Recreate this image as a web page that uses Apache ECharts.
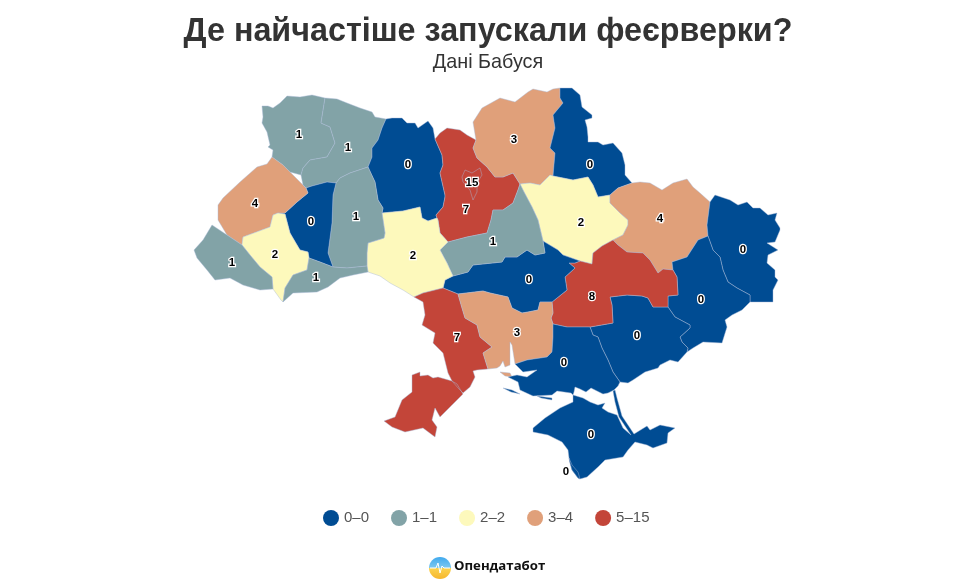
<!DOCTYPE html>
<html>
<head>
    <meta charset="utf-8">
    <title>Де найчастіше запускали феєрверки?</title>
    <script src="https://cdn.jsdelivr.net/npm/echarts@6/dist/echarts.min.js"></script>
    <style>
        html, body { margin: 0; padding: 0; background: #fff; }
        #chart { width: 967px; height: 587px; }
    </style>
</head>
<body>
<div id="chart"></div>
<script>
    // значення по областях
    var regionNames = ['Волинська', 'Рівненська', 'Житомирська', 'Київська', 'Київ', 'Чернігівська', 'Сумська',
        'Полтавська', 'Харківська', 'Луганська', 'Донецька', 'Запорізька', 'Дніпропетровська', 'Кіровоградська',
        'Черкаська', 'Вінницька', 'Хмельницька', 'Тернопільська', 'Львівська', 'Івано-Франківська', 'Закарпатська',
        'Чернівецька', 'Одеська', 'Миколаївська', 'Херсонська', 'Крим', 'Севастополь'];
    var regionValues = [1, 1, 0, 7, 15, 3, 0,
        2, 4, 0, 0, 0, 8, 0,
        1, 2, 1, 0, 4, 2, 1,
        1, 7, 3, 0, 0, 0];

    // легенда
    var pieceLabels = ['0–0', '1–1', '2–2', '3–4', '5–15'];
    var pieceMin = [0, 1, 2, 3, 5];
    var pieceMax = [0, 1, 2, 4, 15];
    var pieceColors = ['#004c93', '#82a3a7', '#fdf9bc', '#e0a07a', '#c34539'];

    // контури: спільні ділянки кордонів у пікселях картинки
    var edges = {
        volN: [[272,157],[273,150],[268,147],[270,145],[267,132],[262,123],[263,117],[262,106],[268,106],[273,108],[280,103],[287,96],[300,97],[312,95],[325,98]],
        volRiv: [[325,98],[321,123],[330,127],[335,143],[327,157],[310,160],[303,168],[301,175]],
        volLviv: [[272,157],[283,165],[290,172],[301,175]],
        rivLviv: [[301,175],[303,185],[306,188]],
        rivTer: [[306,188],[312,186],[327,182],[336,183]],
        rivKhm: [[336,183],[340,178],[350,173],[368,167]],
        rivN: [[325,98],[337,99],[347,103],[360,108],[372,112],[375,117],[386,119]],
        rivZhy: [[386,119],[382,128],[378,140],[372,148],[372,157],[368,167]],
        zhyN: [[386,119],[392,118],[402,118],[407,123],[415,123],[418,128],[428,121],[433,128],[435,139]],
        zhyKyiv: [[435,139],[442,155],[443,165],[440,173],[445,195],[445,197],[443,207],[436,215],[437,218]],
        zhyVin: [[437,218],[428,221],[422,218],[420,207],[403,211],[382,213]],
        zhyKhm: [[368,167],[375,182],[378,200],[383,208],[382,213]],
        khmTer: [[336,183],[333,195],[332,223],[328,253],[333,267]],
        khmChe: [[333,267],[347,268],[367,266]],
        khmVin: [[382,213],[385,233],[384,238],[368,243],[367,253],[367,266]],
        lvivOut: [[272,157],[267,164],[257,167],[240,182],[223,198],[218,205],[218,220],[227,235],[242,245]],
        lvivIF: [[242,245],[243,237],[270,227],[273,215],[278,213]],
        lvivTer: [[278,213],[285,213],[297,202],[308,193],[306,188]],
        terIF: [[278,213],[285,214],[290,233],[297,245],[300,250],[308,252],[309,258]],
        terChe: [[309,258],[320,262],[333,267]],
        ifChe: [[309,258],[307,270],[293,275],[285,288],[283,302]],
        ifZak: [[242,245],[250,255],[260,267],[272,277],[273,289]],
        ifOut: [[273,289],[281,300],[283,302]],
        zakOut: [[242,245],[227,235],[212,225],[203,240],[194,250],[197,258],[207,270],[215,280],[230,278],[243,285],[260,290],[273,289]],
        cheOut: [[283,302],[293,293],[317,292],[328,287],[340,278],[353,275],[368,272]],
        cheVin: [[367,266],[368,272]],
        vinOut: [[368,272],[380,276],[390,283],[403,290],[414,297]],
        vinOde: [[414,297],[423,293],[443,288]],
        vinKir: [[443,288],[445,280],[453,276]],
        vinChe: [[453,276],[447,263],[440,250],[448,242]],
        vinKyiv: [[448,242],[440,233],[438,220],[437,218]],
        kyivN: [[435,139],[440,133],[447,128],[460,130],[467,135],[476,140]],
        kyivChn: [[476,140],[473,148],[477,158],[487,167],[495,177],[503,177],[513,173],[520,184]],
        kyivChk: [[520,184],[518,190],[513,203],[503,210],[493,210],[491,220],[487,233],[467,237],[448,242]],
        chkPol: [[520,184],[524,192],[532,207],[538,220],[543,241]],
        chkKir: [[543,241],[545,253],[535,255],[527,250],[517,257],[505,257],[502,262],[473,265],[468,272],[453,276]],
        chnOut: [[476,140],[473,122],[482,108],[500,98],[515,102],[528,92],[533,89],[547,92],[553,89],[560,88]],
        chnSum: [[560,88],[560,98],[563,103],[553,115],[555,128],[550,148],[555,153],[553,176]],
        chnPol: [[520,184],[530,183],[540,185],[550,175],[553,176]],
        sumOut: [[560,88],[572,88],[580,95],[582,107],[592,115],[592,118],[585,120],[587,127],[588,137],[588,142],[598,142],[603,145],[613,143],[622,153],[625,165],[625,175],[632,183]],
        sumPol: [[553,176],[573,180],[588,177],[593,185],[598,197],[610,195]],
        sumKha: [[632,183],[618,188],[610,195]],
        polKha: [[610,195],[610,203],[620,213],[628,220],[628,225],[623,235],[613,240]],
        polDni: [[613,240],[602,246],[593,253],[592,264],[580,261]],
        polKir: [[543,241],[558,250],[563,255],[580,261]],
        khaOut: [[632,183],[640,182],[650,183],[662,190],[673,183],[687,179],[693,187],[700,193],[710,202]],
        khaLug: [[710,202],[707,225],[708,236]],
        khaDon: [[708,236],[698,240],[687,257],[672,262],[673,270]],
        khaDni: [[613,240],[618,245],[627,252],[643,253],[650,260],[658,273],[663,269],[673,270]],
        lugOut: [[710,202],[715,195],[730,200],[738,205],[747,202],[753,208],[760,208],[768,215],[777,213],[775,220],[780,228],[780,230],[775,242],[767,243],[778,250],[768,255],[767,263],[775,270],[775,277],[778,280],[773,290],[773,302],[750,302]],
        lugDon: [[708,236],[713,250],[720,257],[723,270],[728,282],[737,288],[750,295],[750,302]],
        donOut: [[750,302],[742,310],[732,315],[725,320],[727,327],[722,343],[703,342],[693,348],[687,352]],
        donDni: [[673,270],[677,277],[678,295],[668,296],[668,307]],
        donZap: [[668,307],[675,317],[690,325],[690,328],[680,337],[682,342],[688,348],[687,352]],
        dniZap: [[668,307],[653,307],[648,298],[642,296],[627,295],[610,297],[612,305],[613,323],[590,327]],
        dniKhe: [[590,327],[567,327],[553,324]],
        dniMyk: [[553,324],[551,318],[553,313],[552,302]],
        dniKir: [[552,302],[567,290],[565,277],[575,268],[569,263],[575,263],[580,261]],
        zapOut: [[687,352],[678,362],[670,360],[660,365],[658,368],[645,372],[633,380],[628,383],[620,382]],
        zapKhe: [[590,327],[593,335],[598,337],[602,348],[608,360],[613,372],[620,382]],
        kheOut: [[620,382],[618,386],[614,390],[608,393],[603,394],[597,391],[591,388],[586,392],[580,389],[575,387],[574,392],[573,395],[571,393],[557,391],[552,395],[533,396],[520,390],[518,382],[508,377],[517,375],[527,377],[537,370],[523,372],[515,364]],
        kheMyk: [[553,324],[553,337],[552,352],[547,357],[527,360],[515,364]],
        mykCoast: [[515,364],[512,345],[510,342],[510,355],[510,365],[505,367],[503,361],[500,366],[497,368],[488,369]],
        mykOde: [[458,294],[462,308],[465,318],[477,325],[480,337],[492,347],[483,353],[488,369]],
        mykKir: [[458,294],[483,291],[490,293],[508,297],[512,308],[522,313],[528,312],[538,310],[540,302],[552,302]],
        odeKir: [[443,288],[458,294]],
        odeOut: [[414,297],[423,302],[425,315],[422,325],[435,333],[433,343],[443,353],[448,373],[452,381],[459,389],[463,393],[470,387],[475,377],[473,371],[477,370],[488,369]]
    };

    // окремі шматки, що не мають спільних кордонів
    var odesaSouth = [[463,394],[457,384],[452,381],[438,377],[433,378],[428,375],[420,376],[420,372],[412,375],[412,392],[402,400],[395,417],[384,421],[392,427],[405,432],[423,428],[435,437],[437,427],[432,420],[435,408],[440,417],[452,405]];
    var kinburn = [[500,372],[510,373],[512,377],[505,376]];
    var tendra = [[503,388],[512,390],[520,394],[511,392]];
    var dzharylhach = [[537,396],[552,398],[552,400],[541,398]];
    var crimea = [[573,395],[583,398],[590,402],[598,405],[605,403],[602,408],[608,412],[617,415],[623,428],[631,435],[619,417],[615,402],[613,391],[615,390],[617,398],[622,416],[634,434],[647,426],[650,430],[660,425],[675,428],[668,433],[667,443],[653,448],[647,445],[635,442],[628,450],[623,457],[605,460],[598,467],[587,477],[580,479],[578,478],[572,470],[570,463],[569,458],[568,450],[562,442],[548,435],[533,432],[533,428],[545,418],[560,408],[573,402]];
    var sevastopol = [[569,458],[572,465],[578,472],[580,479],[578,478],[572,470],[570,463]];
    var kyivCity = [[462,177],[465,170],[472,173],[480,168],[482,175],[477,183],[477,192],[473,200],[470,190],[463,182]];

    // де стоять підписи
    var labelAt = {
        'Волинська': [299,134], 'Рівненська': [348,147], 'Житомирська': [408,164], 'Київська': [466,209], 'Київ': [472,182],
        'Чернігівська': [514,139], 'Сумська': [590,164], 'Полтавська': [581,222], 'Харківська': [660,218], 'Луганська': [743,249],
        'Донецька': [701,299], 'Запорізька': [637,335], 'Дніпропетровська': [592,296], 'Кіровоградська': [529,279],
        'Черкаська': [493,241], 'Вінницька': [413,255], 'Хмельницька': [356,216], 'Тернопільська': [311,221], 'Львівська': [255,203],
        'Івано-Франківська': [275,254], 'Закарпатська': [232,262], 'Чернівецька': [316,277], 'Одеська': [457,337],
        'Миколаївська': [517,332], 'Херсонська': [564,362], 'Крим': [591,434], 'Севастополь': [566,471]
    };

    // збирає кільце зі спільних кордонів, '-' значить у зворотному напрямку
    function ring(parts) {
        var pts = [];
        parts.forEach(function (p) {
            var rev = p.charAt(0) === '-';
            var line = edges[rev ? p.slice(1) : p].slice();
            if (rev) line.reverse();
            pts = pts.concat(pts.length ? line.slice(1) : line);
        });
        return pts;
    }

    var shapes = {
        'Волинська': [ring(['volN', 'volRiv', '-volLviv'])],
        'Рівненська': [ring(['-volRiv', 'rivN', 'rivZhy', '-rivKhm', '-rivTer', '-rivLviv'])],
        'Житомирська': [ring(['zhyN', 'zhyKyiv', 'zhyVin', '-zhyKhm', '-rivZhy'])],
        'Хмельницька': [ring(['rivKhm', 'zhyKhm', 'khmVin', '-khmChe', '-khmTer'])],
        'Тернопільська': [ring(['rivTer', 'khmTer', '-terChe', '-terIF', 'lvivTer'])],
        'Львівська': [ring(['lvivOut', 'lvivIF', 'lvivTer', 'rivLviv', '-volLviv'])],
        'Івано-Франківська': [ring(['lvivIF', 'terIF', 'ifChe', '-ifOut', '-ifZak'])],
        'Закарпатська': [ring(['zakOut', '-ifZak'])],
        'Чернівецька': [ring(['terChe', 'khmChe', 'cheVin', '-cheOut', '-ifChe'])],
        'Вінницька': [ring(['-zhyVin', '-vinKyiv', '-vinChe', '-vinKir', '-vinOde', '-vinOut', '-cheVin', '-khmVin'])],
        'Київська': [ring(['kyivN', 'kyivChn', 'kyivChk', 'vinKyiv', '-zhyKyiv'])],
        'Черкаська': [ring(['chkPol', 'chkKir', 'vinChe', '-kyivChk'])],
        'Чернігівська': [ring(['chnOut', 'chnSum', '-chnPol', '-kyivChn'])],
        'Сумська': [ring(['sumOut', 'sumKha', '-sumPol', '-chnSum'])],
        'Полтавська': [ring(['chnPol', 'sumPol', 'polKha', 'polDni', '-polKir', '-chkPol'])],
        'Харківська': [ring(['khaOut', 'khaLug', 'khaDon', '-khaDni', '-polKha', '-sumKha'])],
        'Луганська': [ring(['lugOut', '-lugDon', '-khaLug'])],
        'Донецька': [ring(['lugDon', 'donOut', '-donZap', '-donDni', '-khaDon'])],
        'Дніпропетровська': [ring(['khaDni', 'donDni', 'dniZap', 'dniKhe', 'dniMyk', 'dniKir', '-polDni'])],
        'Запорізька': [ring(['-dniZap', 'donZap', 'zapOut', '-zapKhe'])],
        'Херсонська': [ring(['zapKhe', 'kheOut', '-kheMyk', '-dniKhe']), tendra, dzharylhach],
        'Миколаївська': [ring(['mykKir', '-dniMyk', 'kheMyk', 'mykCoast', '-mykOde']), kinburn],
        'Кіровоградська': [ring(['vinKir', '-chkKir', 'polKir', '-dniKir', '-mykKir', '-odeKir'])],
        'Одеська': [ring(['odeOut', '-mykOde', '-odeKir', '-vinOde']), odesaSouth],
        'Крим': [crimea],
        'Севастополь': [sevastopol],
        'Київ': [kyivCity]
    };

    // y міняємо знак, бо geoJSON рахує широту вгору
    function flip(p) { return [p[0], -p[1]]; }
    function closed(r) { return r.concat([r[0]]).map(flip); }

    var geoJson = {
        type: 'FeatureCollection',
        features: regionNames.map(function (name) {
            return {
                type: 'Feature',
                properties: { name: name, cp: flip(labelAt[name]) },
                geometry: {
                    type: 'MultiPolygon',
                    coordinates: shapes[name].map(function (r) { return [closed(r)]; })
                }
            };
        })
    };
    echarts.registerMap('ukraine', geoJson);

    var myChart = echarts.init(document.getElementById('chart'));
    myChart.setOption({
        animation: false,
        title: {
            text: 'Де найчастіше запускали феєрверки?',
            subtext: 'Дані Бабуся',
            left: 483,
            textAlign: 'center',
            top: 11,
            itemGap: 5,
            textStyle: { fontFamily: 'Liberation Sans', fontWeight: 'bold', fontSize: 32.3, color: '#333333' },
            subtextStyle: { fontFamily: 'Liberation Sans', fontSize: 19.8, color: '#333333' }
        },
        visualMap: {
            type: 'piecewise',
            orient: 'horizontal',
            left: 308,
            top: 495,
            itemWidth: 16,
            itemHeight: 16,
            itemGap: 22,
            textGap: 5,
            itemSymbol: 'circle',
            selectedMode: false,
            seriesIndex: 0,
            textStyle: { fontFamily: 'Liberation Sans', fontSize: 15, color: '#555555' },
            pieces: pieceLabels.map(function (label, i) {
                return { min: pieceMin[i], max: pieceMax[i], label: label, color: pieceColors[i] };
            })
        },
        series: [{
            type: 'map',
            map: 'ukraine',
            aspectScale: 1,
            roam: false,
            silent: true,
            left: 194,
            top: 88,
            width: 586,
            height: 391,
            selectedMode: false,
            itemStyle: { borderColor: 'rgba(170,185,215,0.55)', borderWidth: 0.8 },
            label: {
                show: true,
                formatter: '{c}',
                offset: [0, 1],
                color: '#000',
                fontFamily: 'Liberation Sans',
                fontWeight: 'bold',
                fontSize: 11.5,
                textBorderColor: '#fff',
                textBorderWidth: 2.5
            },
            data: regionNames.map(function (name, i) {
                return { name: name, value: regionValues[i] };
            })
        }],
        // логотип
        graphic: [
            {
                type: 'circle',
                shape: { cx: 440, cy: 568, r: 11 },
                style: {
                    fill: new echarts.graphic.LinearGradient(0, 0, 0, 1, [
                        { offset: 0, color: '#3fa9ee' },
                        { offset: 0.48, color: '#7cc7ee' },
                        { offset: 0.52, color: '#fbd24e' },
                        { offset: 1, color: '#f6b62c' }
                    ])
                }
            },
            {
                type: 'polyline',
                shape: { points: [[430, 568], [436, 568], [438, 563], [440, 573], [442, 566], [444, 568], [450, 568]] },
                style: { stroke: '#ffffff', fill: null, lineWidth: 1 }
            },
            {
                type: 'text',
                left: 454,
                top: 560,
                style: { text: 'Опендатабот', fontFamily: 'Open Sans', fontWeight: 'bold', fontSize: 13.2, fill: '#111111' }
            }
        ]
    });
</script>
</body>
</html>
